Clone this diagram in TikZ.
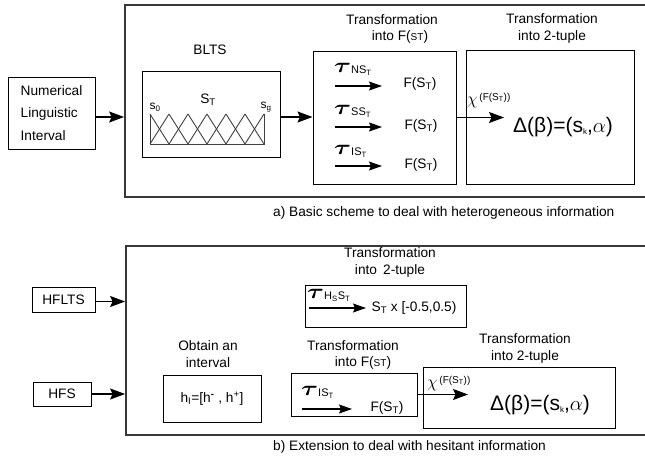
\documentclass[tikz,border=0pt]{standalone}
\usepackage{amsmath}
\usepackage{graphicx}
\usepackage{fontspec}
\setmainfont{Liberation Sans}
\usetikzlibrary{positioning,arrows.meta}

\tikzset{
  box/.style={draw=black, line width=1pt, inner sep=0pt},
  frame/.style={draw=black!78, line width=1.8pt, inner sep=0pt},
  arr/.style={-{Stealth[length=15pt,width=11pt,inset=2.5pt]}, line width=1.2pt},
  sarr/.style={-{Stealth[length=13pt,width=9pt,inset=2pt]}, line width=1.1pt},
  lbl/.style={inner sep=0pt, font=\fontsize{13.7}{17}\selectfont},
  tri/.style={draw=black!75, line width=0.9pt},
}
\newcommand{\taulab}[1]{\scalebox{1.25}[1]{\fontsize{22}{22}\selectfont$\boldsymbol{\tau}$}\raisebox{-1.5pt}{\fontsize{11}{11}\selectfont #1}}
\newcommand{\chilab}{{\fontsize{18}{18}\selectfont$\chi$}\,\raisebox{4pt}{\fontsize{10}{10}\selectfont(F(S\textsubscript{T}))}}
\newcommand{\deltaexpr}{{\fontsize{21}{24}\selectfont Δ(β)=(s\raisebox{-2pt}{\fontsize{8}{8}\selectfont k},$\alpha$)}}

\begin{document}
\begin{tikzpicture}[x=1pt,y=-1pt]
      \useasboundingbox (0,0) rectangle (645,461);

      % Define the two frames
      \node[frame, minimum width=525pt, minimum height=192pt] (topframe) at (387.5,101) {};
      \node[frame, minimum width=524pt, minimum height=189pt] (botframe) at (388,340.5) {};

      % Define the nodes of the basic scheme
      \node[box, lbl, minimum width=87pt, minimum height=72pt, align=left,
            font=\fontsize{13.7}{22.5}\selectfont] (nli) at (51.5,113) {Numerical\\Linguistic\\Interval};
      \node[lbl] (bltslbl) at (210,50) {BLTS};
      \node[box, minimum width=138pt, minimum height=86pt] (blts) at (211,114) {};
      \node[lbl] (st) at (208,100) {S\textsubscript{T}};
      \node[inner sep=0pt, font=\fontsize{12}{12}\selectfont] (s0) at (155,107) {s\textsubscript{0}};
      \node[inner sep=0pt, font=\fontsize{12}{12}\selectfont] (sg) at (266,107) {s\textsubscript{g}};

      % Draw the labels of the term set
      \foreach \i in {0,...,5} {
        \draw[tri] (150+19*\i,114) -- (169+19*\i,144);
        \draw[tri] (150+19*\i,144) -- (169+19*\i,114);
      }
      \draw[tri] (150,114) -- (150,144) -- (264,144) -- (264,114);

      \node[lbl] (fsttitle1) at (392,20) {Transformation};
      \node[lbl] (fsttitle2) at (400,37) {into F({\fontsize{10}{10}\selectfont ST})};
      \node[box, minimum width=143pt, minimum height=133pt] (fst) at (384.5,117.5) {};

      \node[anchor=base west, inner sep=0pt] (tns) at (334,72) {\taulab{NS\textsubscript{T}}};
      \node[anchor=base west, inner sep=0pt] (tss) at (334,114) {\taulab{SS\textsubscript{T}}};
      \node[anchor=base west, inner sep=0pt] (tis) at (334,154) {\taulab{IS\textsubscript{T}}};
      \coordinate (ns0) at (335,86);  \coordinate (ns1) at (382,86);
      \coordinate (ss0) at (335,127); \coordinate (ss1) at (382,127);
      \coordinate (is0) at (335,166); \coordinate (is1) at (382,166);
      \node[lbl] (fns) at (420,84) {F(S\textsubscript{T})};
      \node[lbl] (fss) at (421,126) {F(S\textsubscript{T})};
      \node[lbl] (fis) at (421,165) {F(S\textsubscript{T})};

      \node[lbl, align=center] (tuptitle) at (552,28.5) {Transformation\\into 2-tuple};
      \node[box, minimum width=168pt, minimum height=134pt] (tup) at (550,117) {};
      \coordinate (chiend) at (504,117.5);
      \node[anchor=base west, inner sep=0pt] (chi) at (467,104) {\chilab};
      \node[anchor=base west, inner sep=0pt] (delta) at (513,132) {\deltaexpr};

      \node[lbl, anchor=west] (capa) at (273,213) {a) Basic scheme to deal with heterogeneous information};

      % Draw the arrows of the basic scheme
      \draw[arr] ([yshift=-4pt]nli.east) -- ([yshift=-4pt]nli.east -| topframe.west);
      \draw[arr] ([yshift=-3pt]blts.east) -- ([yshift=-3pt]blts.east -| fst.west);
      \draw[sarr] (ns0) -- (ns1);
      \draw[sarr] (ss0) -- (ss1);
      \draw[sarr] (is0) -- (is1);
      \draw[arr] (fst.east) -- (chiend);

      % Define the nodes of the extension
      \node[box, lbl, minimum width=63pt, minimum height=25pt] (hflts) at (63.5,299.5) {HFLTS};
      \node[box, lbl, minimum width=58pt, minimum height=24pt] (hfs) at (62,394) {HFS};

      \node[lbl, align=center] (obtlbl) at (208,354) {Obtain an\\interval};
      \node[box, lbl, minimum width=98pt, minimum height=47pt] (hint) at (212,398.5)
            {h\textsubscript{I}=[h\textsuperscript{\textbf{-}} , h\textsuperscript{+}]};

      \node[lbl, align=center] (hsttitle) at (390,262) {Transformation\\into \,2-tuple};
      \node[box, minimum width=161pt, minimum height=42pt] (hst) at (385.5,306.5) {};
      \node[anchor=base west, inner sep=0pt] (thst) at (307,298) {\taulab{H\textsubscript{S}S\textsubscript{T}}};
      \coordinate (hs0) at (309,308); \coordinate (hs1) at (366,308);
      \node[lbl] (stint) at (414,308) {S\textsubscript{T} x [-0.5,0.5)};

      \node[lbl] (isttitle1) at (353,346) {Transformation};
      \node[lbl] (isttitle2) at (363,363) {into F({\fontsize{10}{10}\selectfont ST})};
      \node[box, minimum width=126pt, minimum height=43pt] (ist) at (354,394.5) {};
      \node[anchor=base west, inner sep=0pt] (tis2) at (301,395) {\taulab{IS\textsubscript{T}}};
      \coordinate (ib0) at (302,409); \coordinate (ib1) at (352,409);
      \node[lbl] (fis2) at (387,408) {F(S\textsubscript{T})};

      \node[lbl, align=center] (tup2title) at (525,348.5) {Transformation\\into 2-tuple};
      \node[box, minimum width=192pt, minimum height=61pt] (tup2) at (519,397.5) {};
      \coordinate (chiend2) at (468,394.5);
      \node[anchor=base west, inner sep=0pt] (chi2) at (427,387) {\chilab};
      \node[anchor=base west, inner sep=0pt] (delta2) at (490,410) {\deltaexpr};

      \node[lbl, anchor=west] (capb) at (273,447) {b) Extension to deal with hesitant information};

      % Draw the arrows of the extension
      \draw[arr] ([yshift=-2pt]hflts.east) -- ([yshift=-2pt]hflts.east -| botframe.west);
      \draw[arr] (hfs.east) -- (hfs.east -| botframe.west);
      \draw[sarr] (hs0) -- (hs1);
      \draw[sarr] (ib0) -- (ib1);
      \draw[arr] (ist.east) -- (chiend2);
\end{tikzpicture}
\end{document}
